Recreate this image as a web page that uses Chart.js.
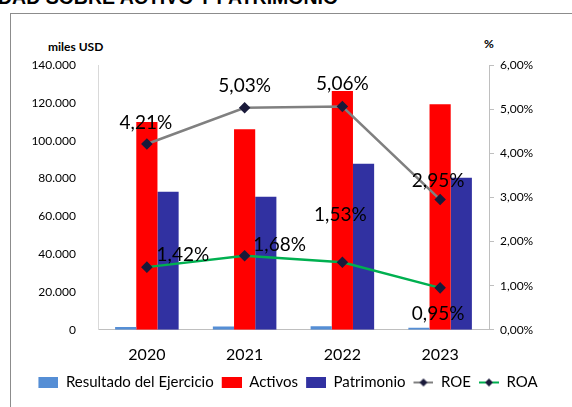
<!DOCTYPE html>
<html>
<head>
<meta charset="utf-8">
<script src="https://cdn.jsdelivr.net/npm/chart.js@4.4.0/dist/chart.umd.min.js"></script>
<style>
  html, body { margin: 0; padding: 0; background: #fff; overflow: hidden; }
  #wrap { position: relative; width: 572px; height: 407px; }
  #frame { position: absolute; left: 10px; top: 13px; width: 620px; height: 460px; border: 1px solid #8c8c8c; }
  #title { position: absolute; left: -2px; top: -14px; font: bold 19.5px "Liberation Sans", Arial, sans-serif; white-space: nowrap; color: #000; }
  .axt { position: absolute; font: bold 12px Lato, sans-serif; color: #000; }
  canvas { position: absolute; left: 0; top: 0; }
</style>
</head>
<body>
<div id="wrap">
  <div id="frame"></div>
  <div id="title">DAD SOBRE ACTIVO Y PATRIMONIO</div>
  <div class="axt" style="left:48px; top:39px;">miles USD</div>
  <div class="axt" style="left:484px; top:36px;">%</div>
  <canvas id="chart" width="572" height="407"></canvas>
</div>
<script>
// DATA
const years = ["2020", "2021", "2022", "2023"];
const resultado = [1500, 1800, 1900, 1100];
const activos = [109800, 106000, 126200, 119200];
const patrimonio = [73000, 70300, 87800, 80400];
const roe = [4.21, 5.03, 5.06, 2.95];
const roa = [1.42, 1.68, 1.53, 0.95];

const FONT = 'Lato, sans-serif';

// legend swatches (4px blank on the left to space the items)
function boxSwatch(color) {
  const c = document.createElement("canvas");
  c.width = 24; c.height = 11;
  const g = c.getContext("2d");
  g.fillStyle = color;
  g.fillRect(4, 0, 20, 11);
  return c;
}
function lineSwatch(color) {
  const c = document.createElement("canvas");
  c.width = 24; c.height = 10;
  const g = c.getContext("2d");
  g.strokeStyle = color; g.lineWidth = 2;
  g.beginPath(); g.moveTo(4, 5); g.lineTo(24, 5); g.stroke();
  g.fillStyle = "#1a1a3a";
  g.beginPath(); g.moveTo(14, 1); g.lineTo(18, 5); g.lineTo(14, 9); g.lineTo(10, 5); g.closePath(); g.fill();
  return c;
}

const fmtThousands = v => String(v).replace(/\B(?=(\d{3})+(?!\d))/g, ".");
const fmtPct = v => v.toFixed(2).replace(".", ",") + "%";

// value labels next to the line points
const labelOffsets = {
  3: [[-1, -21], [0, -22], [0, -23], [-2, -19]],
  4: [[36, -12], [35, -11], [-2, -47], [-2, 26]]
};
const pointLabels = {
  id: "pointLabels",
  afterDatasetsDraw(chart) {
    const ctx = chart.ctx;
    ctx.save();
    ctx.font = "19px " + FONT;
    ctx.fillStyle = "#000";
    ctx.textAlign = "center";
    ctx.textBaseline = "middle";
    Object.keys(labelOffsets).forEach(i => {
      const meta = chart.getDatasetMeta(i);
      const ds = chart.data.datasets[i];
      meta.data.forEach((pt, j) => {
        const [dx, dy] = labelOffsets[i][j];
        ctx.fillText(fmtPct(ds.data[j]), pt.x + dx, pt.y + dy);
      });
    });
    ctx.restore();
  }
};

new Chart(document.getElementById("chart"), {
  data: {
    labels: years,
    datasets: [
      { type: "bar", label: "Resultado del Ejercicio", data: resultado, backgroundColor: "#558ed5", yAxisID: "y", order: 2, pointStyle: boxSwatch("#558ed5") },
      { type: "bar", label: "Activos", data: activos, backgroundColor: "#ff0000", yAxisID: "y", order: 2, pointStyle: boxSwatch("#ff0000") },
      { type: "bar", label: "Patrimonio", data: patrimonio, backgroundColor: "#3131a1", yAxisID: "y", order: 2, pointStyle: boxSwatch("#3131a1") },
      { type: "line", label: "ROE", data: roe, borderColor: "#808080", borderWidth: 2.5, pointStyle: "rectRot", pointRadius: 4, pointBackgroundColor: "#1a1a3a", pointBorderColor: "#1a1a3a", yAxisID: "y1", order: 0, tension: 0 },
      { type: "line", label: "ROA", data: roa, borderColor: "#00b050", borderWidth: 2.5, pointStyle: "rectRot", pointRadius: 4, pointBackgroundColor: "#1a1a3a", pointBorderColor: "#1a1a3a", yAxisID: "y1", order: 0, tension: 0 }
    ]
  },
  options: {
    responsive: false,
    animation: false,
    layout: { padding: { left: 0, right: 0, top: 65, bottom: 7 } },
    datasets: { bar: { barPercentage: 1, categoryPercentage: 0.65 } },
    plugins: {
      tooltip: { enabled: false },
      legend: {
        position: "bottom",
        labels: {
          usePointStyle: true,
          pointStyleWidth: 24,
          padding: 4,
          color: "#000",
          font: { family: FONT, size: 15 },
          generateLabels(chart) {
            const sw = [null, null, null, lineSwatch("#808080"), lineSwatch("#00b050")];
            return chart.data.datasets.map((ds, i) => ({
              text: ds.label,
              pointStyle: sw[i] || ds.pointStyle,
              fillStyle: ds.backgroundColor,
              strokeStyle: "transparent",
              lineWidth: 0,
              datasetIndex: i
            }));
          }
        }
      }
    },
    scales: {
      x: {
        grid: { display: false },
        border: { color: "#bfbfbf" },
        ticks: { color: "#000", font: { family: FONT, size: 16 }, padding: 7 }
      },
      y: {
        position: "left",
        min: 0, max: 140000,
        ticks: { stepSize: 20000, color: "#000", font: { family: FONT, size: 12 }, padding: 14, callback: v => fmtThousands(v) },
        grid: { display: false },
        border: { color: "#d9d9d9" },
        afterFit: s => { s.width = 98; }
      },
      y1: {
        position: "right",
        min: 0, max: 6,
        ticks: { stepSize: 1, color: "#000", font: { family: FONT, size: 12 }, padding: 6, callback: v => fmtPct(v) },
        grid: { drawOnChartArea: false, drawTicks: true, tickLength: 5, color: "#bfbfbf" },
        border: { color: "#bfbfbf" },
        afterFit: s => { s.width = 83; }
      }
    }
  },
  plugins: [pointLabels]
});
</script>
</body>
</html>
